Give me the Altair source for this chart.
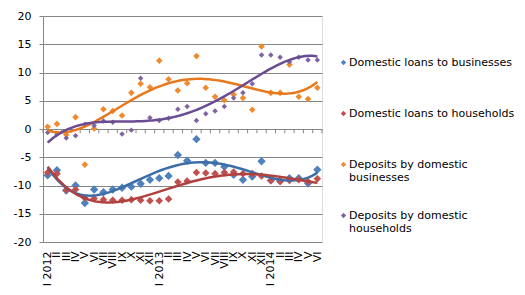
import altair as alt
import pandas as pd

# Month labels, January 2012 – June 2014
months = ["I 2012", "II", "III", "IV", "V", "VI", "VII", "VIII", "IX", "X", "XI", "XII",
          "I 2013", "II", "III", "IV", "V", "VI", "VII", "VIII", "IX", "X", "XI", "XII",
          "I 2014", "II", "III", "IV", "V", "VI"]

series_names = ["Domestic loans to businesses", "Domestic loans to households",
                "Deposits by domestic businesses", "Deposits by domestic households"]

loans_business = [-8.2, -7.3, -10.9, -10.0, -13.1, -10.7, -11.2, -10.7, -10.4, -10.2,
                  -9.7, -9.0, -8.7, -8.3, -4.6, -5.6, -1.8, -6.0, -6.0, -6.7,
                  -8.1, -9.0, -8.4, -5.7, -9.1, -9.2, -8.7, -8.7, -9.6, -7.2]
loans_households = [-7.7, -7.9, -10.8, -10.7, -12.2, -12.3, -12.5, -12.6, -12.6, -12.5,
                    -12.6, -12.7, -12.7, -12.4, -9.4, -9.2, -7.7, -7.8, -7.9, -7.7,
                    -7.6, -7.9, -7.9, -8.3, -9.1, -9.3, -9.1, -9.0, -9.3, -8.8]
deposits_business = [0.4, 0.9, -1.0, 2.1, -6.3, 0.1, 3.5, 3.2, 2.4, 6.4,
                     8.0, 7.4, 12.1, 8.8, 6.8, 8.1, 12.9, 7.3, 5.7, 5.1,
                     6.1, 5.5, 3.4, 14.6, 6.4, 6.4, 11.4, 5.7, 5.3, 7.3]
deposits_households = [-0.6, -0.9, -1.6, -1.2, 0.8, 0.6, 1.4, 1.2, -0.9, -0.2,
                       9.0, 2.0, 1.5, 1.9, 3.5, 4.0, 1.5, 2.7, 3.2, 4.0,
                       5.5, 6.4, 8.0, 13.1, 13.1, 12.7, 11.9, 12.7, 12.2, 12.2]

marker_colors = ["#4F81BD", "#C0504D", "#F08A2C", "#8064A2"]
line_colors = ["#3D6DA8", "#B0413E", "#E8781C", "#6A4C93"]
marker_sizes = [70, 30, 30, 30]

rows = []
for name, vals in zip(series_names, [loans_business, loans_households,
                                     deposits_business, deposits_households]):
    for i, v in enumerate(vals):
        rows.append({"idx": i, "series": name, "value": v})
df = pd.DataFrame(rows)

# category boundaries for the tick marks on the zero line
ticks_df = pd.DataFrame({"idx": [i - 0.5 for i in range(len(months) + 1)]})

label_js = "[" + ",".join("'%s'" % m for m in months) + "][datum.value]"
font = "DejaVu Sans"
grid_gray = "#868686"

x_scale = alt.Scale(domain=[-0.5, len(months) - 0.5], nice=False, zero=False)
y_scale = alt.Scale(domain=[-20, 20], nice=False, zero=False)

x_enc = alt.X(
    "idx:Q", scale=x_scale,
    axis=alt.Axis(values=list(range(len(months))), labelExpr=label_js, ticks=False,
                  domain=False, grid=False, labelAngle=270, labelOverlap=False,
                  labelFlush=False, labelPadding=9, labelFont=font, labelFontSize=11,
                  labelColor="#000000", title=None),
)
y_enc = alt.Y(
    "value:Q", scale=y_scale,
    axis=alt.Axis(values=list(range(-20, 21, 5)), labelExpr="'' + datum.value",
                  grid=True, gridColor=grid_gray, domainColor=grid_gray, tickColor=grid_gray,
                  tickSize=4, labelPadding=8, labelOverlap=False, labelFont=font,
                  labelFontSize=11, labelColor="#000000", title=None),
)

base = alt.Chart(df)

points = base.mark_point(filled=True, shape="diamond", opacity=1).encode(
    x=x_enc,
    y=y_enc,
    color=alt.Color(
        "series:N", sort=series_names,
        scale=alt.Scale(domain=series_names, range=marker_colors),
        legend=alt.Legend(
            title=None, orient="none", legendX=295, legendY=41, direction="vertical",
            gridAlign="all", symbolType="diamond", symbolSize=28, symbolStrokeWidth=0,
            labelFont=font, labelFontSize=11, labelColor="#000000", labelLimit=300,
            labelOffset=0, rowPadding=26,
            labelExpr="datum.label == 'Deposits by domestic businesses' ? ['Deposits by domestic', 'businesses'] : datum.label == 'Deposits by domestic households' ? ['Deposits by domestic', 'households'] : datum.label",
        ),
    ),
    size=alt.Size("series:N", scale=alt.Scale(domain=series_names, range=marker_sizes),
                  legend=None),
)

trends = base.transform_regression(
    "idx", "value", groupby=["series"], method="poly", order=4
).mark_line(strokeWidth=2.5).encode(
    x=alt.X("idx:Q", scale=x_scale, axis=None),
    y=alt.Y("value:Q", scale=y_scale, axis=None),
    color=alt.Color("series:N", scale=alt.Scale(domain=series_names, range=line_colors),
                    legend=None),
)

zero_ticks = alt.Chart(ticks_df).mark_rule(color=grid_gray, strokeWidth=1).encode(
    x=alt.X("idx:Q", scale=x_scale, axis=None),
    y=alt.YDatum(0, scale=y_scale, axis=None),
    y2=alt.datum(-0.75),
)

chart = alt.layer(zero_ticks, points, trends).resolve_scale(
    color="independent"
).resolve_axis(
    x="independent", y="independent"
).properties(
    width=279, height=226,
    autosize=alt.AutoSizeParams(type="none"),
    padding={"left": 43, "top": 16, "right": 203, "bottom": 53},
).configure_view(stroke=None).configure(background="#FFFFFF")

chart.save("out.html", embed_options={"renderer": "svg", "actions": False})
